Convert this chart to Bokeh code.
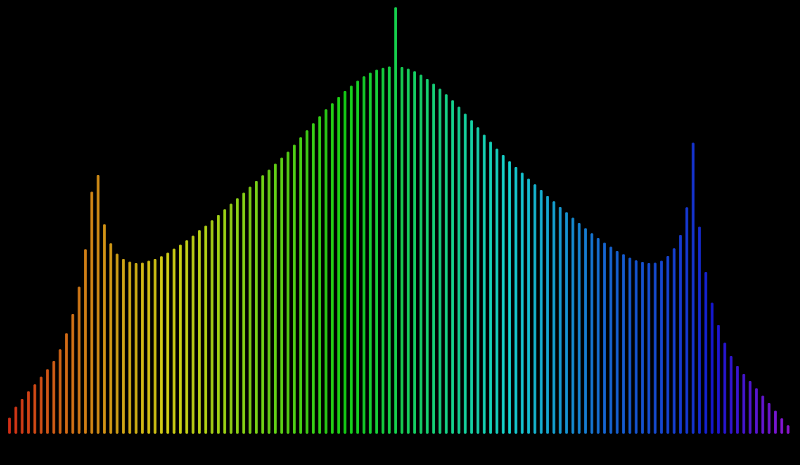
import colorsys
import numpy as np
from bokeh.plotting import figure
from bokeh.models import Range1d, ColumnDataSource, GlobalInlineStyleSheet
from bokeh.embed import file_html
from bokeh.resources import INLINE

# Bin index (0..123) and bar heights
bins = list(range(124))
counts = [
    15, 26, 33.7, 41.4, 48.4, 56, 63.4, 71.7, 83.4, 99.4,
    118.7, 146, 183.4, 241, 257.7, 208.4, 189.4, 179, 173.7, 171,
    169.7, 170, 172, 173.7, 176.4, 180, 184, 188, 192.4, 197,
    202.5, 207, 212.4, 217.7, 223.4, 229, 234.4, 240, 246, 251.7,
    257.4, 263, 269, 275, 281, 288, 295.4, 302.4, 309.4, 316.4,
    323.4, 329.4, 335.7, 341.7, 347, 352, 356.4, 360, 363, 364.8,
    366.2, 425.4, 365.7, 364, 361.4, 358, 353.7, 349, 344, 338.4,
    332.4, 326, 319, 312.4, 305.4, 298, 291, 284, 277.7, 271.4,
    265.7, 260, 254, 248.4, 242.7, 236.7, 231.4, 225.7, 220.4, 215,
    209.7, 204.4, 199.4, 194.7, 190, 186, 181.7, 178.4, 175, 172.4,
    170.7, 169.7, 170, 172, 176.7, 184.4, 197.7, 225.4, 290, 206,
    160.7, 130, 107.7, 90, 76.7, 66.7, 58.7, 51.7, 44.4, 37,
    29.7, 22, 14.4, 7.4,
]

# colour ramp (style): hue anchors along the bins
hue_at = [0, 14, 22, 30, 61, 94, 108, 116, 123]
hue_val = [8, 38, 54, 68, 138, 214, 230, 255, 278]
colors = []
for i in bins:
    h = float(np.interp(i, hue_at, hue_val)) / 360.0
    r, g, b = colorsys.hls_to_rgb(h, 0.46, 0.80)
    colors.append("#%02x%02x%02x" % (int(r * 255), int(g * 255), int(b * 255)))

src = ColumnDataSource(dict(x=bins, top=counts, color=colors))

p = figure(width=800, height=465, output_backend="svg", toolbar_location=None,
           x_range=Range1d(-1.42, 124.96), y_range=Range1d(-32.3, 432.7),
           background_fill_color="black", border_fill_color="black",
           min_border=0, outline_line_color=None)
p.vbar(x="x", top="top", bottom=0, width=0.27, color="color", source=src)
p.axis.visible = False
p.grid.visible = False
p.stylesheets = [GlobalInlineStyleSheet(css="html, body { background: #000; }")]

open("out.html", "w").write(file_html(p, INLINE))
